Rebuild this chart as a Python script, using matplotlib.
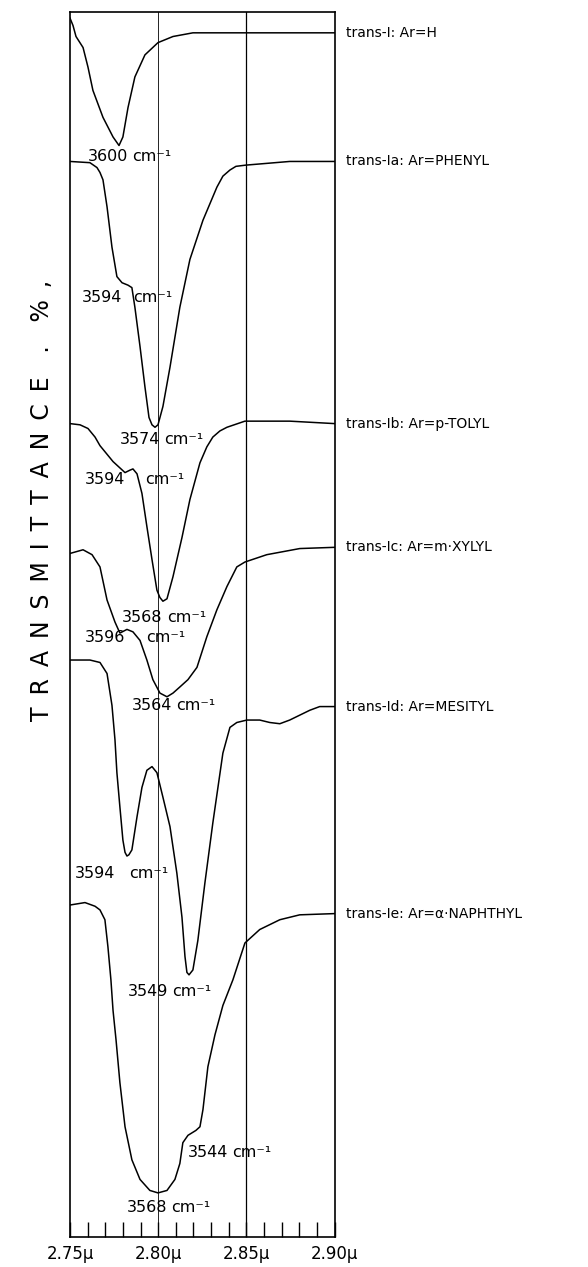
import numpy as np
import matplotlib
matplotlib.use("Agg")
import matplotlib.pyplot as plt
from matplotlib.ticker import MultipleLocator, FixedLocator

# wavelength (micron) and offset transmittance (% of chart height) for each trace
names = ["trans-I: Ar=H", "trans-Ia: Ar=PHENYL", "trans-Ib: Ar=p-TOLYL",
         "trans-Ic: Ar=m·XYLYL", "trans-Id: Ar=MESITYL", "trans-Ie: Ar=α·NAPHTHYL"]

x_h = [2.7500, 2.7517, 2.7534, 2.7574, 2.7602, 2.7630, 2.7687, 2.7744, 2.7778,
       2.7800, 2.7829, 2.7868, 2.7925, 2.7999, 2.8084, 2.8197, 2.9000]
y_h = [99.5, 98.9, 98.0, 97.1, 95.5, 93.6, 91.4, 89.8, 89.1,
       89.8, 92.2, 94.7, 96.5, 97.5, 98.0, 98.3, 98.3]

x_ph = [2.7500, 2.7613, 2.7653, 2.7670, 2.7687, 2.7710, 2.7738, 2.7766, 2.7795,
        2.7829, 2.7851, 2.7868, 2.7897, 2.7925, 2.7948, 2.7965, 2.7982, 2.7999,
        2.8027, 2.8067, 2.8123, 2.8180, 2.8254, 2.8333, 2.8367, 2.8407, 2.8441,
        2.8497, 2.8746, 2.9000]
y_ph = [87.8, 87.7, 87.3, 86.9, 86.3, 84.1, 80.8, 78.4, 77.9,
        77.7, 77.5, 75.9, 72.7, 69.4, 66.9, 66.3, 66.1, 66.3,
        67.8, 71.0, 75.9, 79.8, 83.0, 85.7, 86.6, 87.1, 87.4,
        87.5, 87.8, 87.8]

x_tol = [2.7500, 2.7557, 2.7602, 2.7642, 2.7670, 2.7744, 2.7812, 2.7840, 2.7857,
         2.7880, 2.7908, 2.7936, 2.7965, 2.7993, 2.8010, 2.8027, 2.8050, 2.8084,
         2.8135, 2.8180, 2.8237, 2.8276, 2.8310, 2.8350, 2.8390, 2.8492, 2.8746,
         2.9000]
y_tol = [66.4, 66.3, 66.0, 65.3, 64.6, 63.3, 62.4, 62.6, 62.7,
         62.3, 60.7, 58.0, 55.3, 52.8, 52.2, 51.9, 52.1, 53.9,
         57.1, 60.2, 63.2, 64.5, 65.3, 65.8, 66.1, 66.6, 66.6,
         66.4]

x_xyl = [2.7500, 2.7574, 2.7625, 2.7670, 2.7710, 2.7755, 2.7783, 2.7823, 2.7857,
         2.7897, 2.7936, 2.7970, 2.8010, 2.8050, 2.8084, 2.8123, 2.8169, 2.8220,
         2.8276, 2.8333, 2.8390, 2.8446, 2.8492, 2.8616, 2.8803, 2.9000]
y_xyl = [55.8, 56.1, 55.7, 54.7, 52.0, 50.2, 49.3, 49.6, 49.4,
         48.7, 47.1, 45.5, 44.4, 44.1, 44.4, 44.9, 45.5, 46.5,
         49.0, 51.2, 53.1, 54.7, 55.1, 55.7, 56.2, 56.3]

x_mes = [2.7500, 2.7613, 2.7670, 2.7710, 2.7738, 2.7755, 2.7766, 2.7783, 2.7800,
         2.7812, 2.7823, 2.7834, 2.7851, 2.7880, 2.7908, 2.7936, 2.7965, 2.7993,
         2.8027, 2.8067, 2.8106, 2.8135, 2.8152, 2.8163, 2.8175, 2.8197, 2.8225,
         2.8265, 2.8310, 2.8367, 2.8407, 2.8446, 2.8503, 2.8576, 2.8633, 2.8690,
         2.8746, 2.8803, 2.8860, 2.8916, 2.9000]
y_mes = [47.1, 47.1, 46.9, 46.0, 43.4, 40.6, 37.9, 35.1, 32.4,
         31.4, 31.1, 31.2, 31.6, 34.3, 36.7, 38.1, 38.4, 37.9,
         35.9, 33.5, 29.7, 26.1, 22.9, 21.6, 21.4, 21.8, 24.2,
         28.9, 33.8, 39.5, 41.6, 42.0, 42.2, 42.2, 42.0, 41.9,
         42.2, 42.6, 43.0, 43.3, 43.3]

x_nap = [2.7500, 2.7585, 2.7642, 2.7670, 2.7698, 2.7715, 2.7732, 2.7744, 2.7761,
         2.7783, 2.7812, 2.7851, 2.7897, 2.7953, 2.7999, 2.8050, 2.8095, 2.8123,
         2.8140, 2.8169, 2.8214, 2.8237, 2.8254, 2.8282, 2.8322, 2.8367, 2.8424,
         2.8492, 2.8576, 2.8690, 2.8803, 2.9000]
y_nap = [27.1, 27.3, 27.0, 26.7, 25.9, 23.7, 21.0, 18.5, 16.1,
         12.6, 9.0, 6.3, 4.7, 3.8, 3.6, 3.8, 4.7, 6.0,
         7.7, 8.3, 8.7, 9.0, 10.4, 13.9, 16.5, 18.9, 21.0,
         24.0, 25.1, 25.9, 26.3, 26.4]

traces = [(x_h, y_h), (x_ph, y_ph), (x_tol, y_tol),
          (x_xyl, y_xyl), (x_mes, y_mes), (x_nap, y_nap)]

# band labels (cm-1), where they sit, and the gap before the unit (points)
bands = ["3600", "3594", "3574", "3594", "3568", "3596", "3564", "3594", "3549", "3544", "3568"]
band_x = [2.7602, 2.7568, 2.7783, 2.7585, 2.7795, 2.7585, 2.7851, 2.7528, 2.7829, 2.8169, 2.7823]
band_y = [88.2, 76.7, 65.1, 61.8, 50.6, 48.9, 43.4, 29.7, 20.0, 6.9, 2.4]
unit_gap = [3, 8, 3, 14, 3, 15, 3, 10, 3, 3, 3]

fig = plt.figure(figsize=(5.88, 12.67), dpi=100)
ax = fig.add_axes([70 / 588, 30 / 1267, 264.5 / 588, 1225 / 1267])

for xs, ys in traces:
    ax.plot(xs, ys, color="black", lw=1.1, solid_joinstyle="round")

ax.axvline(2.80, color="black", lw=0.6)
ax.axvline(2.85, color="black", lw=0.9)

for b, bx, by, g in zip(bands, band_x, band_y, unit_gap):
    t = ax.text(bx, by, b, fontsize=11.5, va="center", ha="left")
    ax.annotate("cm⁻¹", xy=(1, 0.5), xycoords=t, xytext=(g, 0),
                textcoords="offset points", fontsize=11.5, va="center", ha="left")

for name, (xs, ys) in zip(names, traces):
    ax.annotate(name, xy=(2.90, ys[-1]), xytext=(8, 0), textcoords="offset points",
                fontsize=10, va="center", ha="left", annotation_clip=False)

ax.set_xlim(2.75, 2.90)
ax.set_ylim(0, 100)
ax.xaxis.set_major_locator(FixedLocator([2.75, 2.80, 2.85, 2.90]))
ax.set_xticklabels(["2.75μ", "2.80μ", "2.85μ", "2.90μ"], fontsize=12)
ax.xaxis.set_minor_locator(MultipleLocator(0.01))
ax.tick_params(axis="x", which="both", direction="in", length=10.5, width=1.0, pad=6)
ax.set_yticks([])
for s in ax.spines.values():
    s.set_linewidth(1.2)

ylab = "\u2002".join("TRANSMITTANCE") + "\u2002\u2002.\u2002\u2002%\u2002,"
fig.text(42 / 588, 1 - 500 / 1267, ylab,
         rotation=90, fontsize=17, ha="center", va="center")

fig.savefig("out.png", dpi=100)
